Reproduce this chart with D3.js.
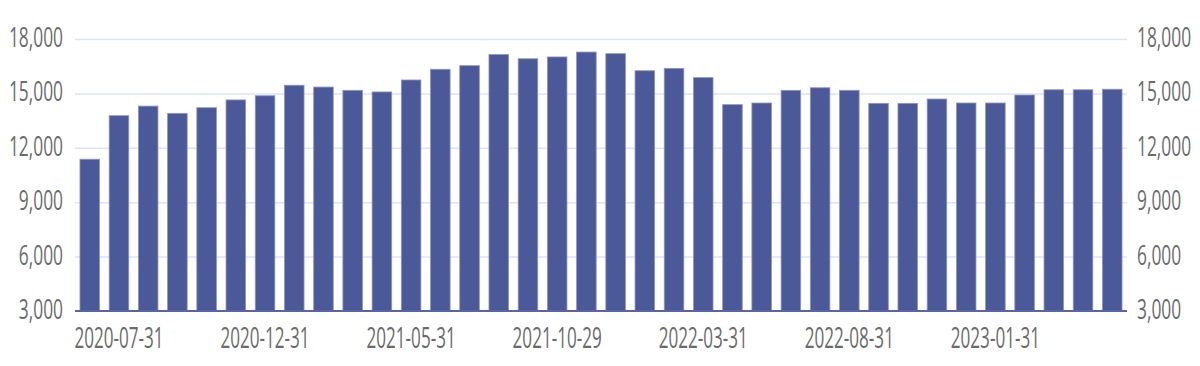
<!DOCTYPE html>
<html>
<head>
<meta charset="utf-8">
<script src="https://cdn.jsdelivr.net/npm/d3@7"></script>
<style>
  body { margin: 0; background: #fff; }
  text { font-family: "Open Sans", sans-serif; fill: #6b6b6b; }
</style>
</head>
<body>
<script>
var width = 1200, height = 366;

var dates = ["2020-06-30","2020-07-31","2020-08-31","2020-09-30","2020-10-30","2020-11-30",
  "2020-12-31","2021-01-29","2021-02-26","2021-03-31","2021-04-30","2021-05-31",
  "2021-06-30","2021-07-30","2021-08-31","2021-09-30","2021-10-29","2021-11-30",
  "2021-12-31","2022-01-28","2022-02-28","2022-03-31","2022-04-29","2022-05-31",
  "2022-06-30","2022-07-29","2022-08-31","2022-09-30","2022-10-31","2022-11-30",
  "2022-12-30","2023-01-31","2023-02-28","2023-03-31","2023-04-28","2023-05-31"];

var values = [11370, 13770, 14300, 13900, 14210, 14640,
  14870, 15450, 15350, 15170, 15080, 15740,
  16330, 16530, 17140, 16910, 17010, 17280,
  17190, 16250, 16380, 15870, 14380, 14470,
  15170, 15310, 15170, 14450, 14450, 14690,
  14470, 14470, 14910, 15200, 15200, 15230];

var yTicks = [3000, 6000, 9000, 12000, 15000, 18000];
var xLabels = ["2020-07-31","2020-12-31","2021-05-31","2021-10-29","2022-03-31","2022-08-31","2023-01-31"];

var plotLeft = 75, plotRight = 1127, plotTop = 39, plotBottom = 311;
var squeeze = 0.62; // labels are horizontally narrow in the original

var svg = d3.select("body").append("svg")
  .attr("width", width)
  .attr("height", height);

var x = d3.scaleBand().domain(dates).range([plotLeft, plotRight]).paddingInner(0.33).paddingOuter(0.17);
var y = d3.scaleLinear().domain([3000, 18000]).range([plotBottom, plotTop]);

// grid
svg.selectAll(".grid")
  .data(yTicks.slice(1))
  .enter().append("line")
  .attr("class", "grid")
  .attr("x1", plotLeft).attr("x2", plotRight)
  .attr("y1", function(d){ return y(d) + 0.5; })
  .attr("y2", function(d){ return y(d) + 0.5; })
  .attr("stroke", "#dfe3f3")
  .attr("stroke-width", 1.5);

// bars
svg.selectAll(".bar")
  .data(values)
  .enter().append("rect")
  .attr("class", "bar")
  .attr("x", function(d, i){ return x(dates[i]); })
  .attr("y", function(d){ return y(d); })
  .attr("width", x.bandwidth())
  .attr("height", function(d){ return y(3000) - y(d); })
  .attr("fill", "#4c5998")
  .attr("stroke", "#8c95c2")
  .attr("stroke-width", 0.8);

// baseline
svg.append("line")
  .attr("x1", plotLeft).attr("x2", plotRight)
  .attr("y1", plotBottom).attr("y2", plotBottom)
  .attr("stroke", "#5a66a3")
  .attr("stroke-width", 2);

// y labels both sides
function yLabels(cls, xpos, anchor){
  svg.selectAll("." + cls)
    .data(yTicks)
    .enter().append("text")
    .attr("class", cls)
    .attr("transform", function(d){ return "translate(" + xpos + "," + (y(d) + 8) + ") scale(" + squeeze + ",1)"; })
    .attr("text-anchor", anchor)
    .attr("font-size", 28)
    .text(function(d){ return d3.format(",")(d); });
}
yLabels("yl", 63, "end");
yLabels("yr", 1137, "start");

// x labels
svg.selectAll(".xl")
  .data(xLabels)
  .enter().append("text")
  .attr("class", "xl")
  .attr("transform", function(d){ return "translate(" + (x(d) + x.bandwidth() / 2) + ",348) scale(0.57,1)"; })
  .attr("text-anchor", "middle")
  .attr("font-size", 30)
  .text(function(d){ return d; });
</script>
</body>
</html>
